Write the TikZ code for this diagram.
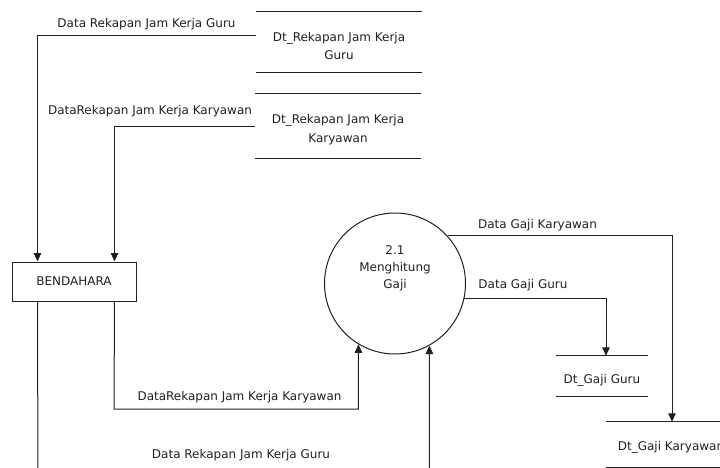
\documentclass[tikz,border=0pt]{standalone}
\usepackage{fontspec}
\setmainfont{DejaVu Sans}
\usetikzlibrary{arrows.meta}
\definecolor{ink}{HTML}{202020}
\begin{document}
\begin{tikzpicture}[x=1pt,y=-1pt,
  every node/.style={font=\fontsize{12}{18}\selectfont, text=ink},
  line/.style={draw=ink, line width=1pt},
  flow/.style={line, -{Triangle[length=8.5pt,width=7.5pt]}},
  storebox/.style={minimum width=#1, inner sep=0},
  lbl/.style={inner sep=0, align=center},
  entity/.style={line, minimum width=124, minimum height=39, inner sep=0},
  process/.style={circle, line, minimum size=141, inner sep=0}]

\useasboundingbox (0,0) rectangle (720,468);
\clip (0,0) rectangle (720,468);

% data stores: two horizontal rules, name set a little below the middle
\node[storebox=166, minimum height=60] (s1) at (339,42) {};
\node[storebox=166, minimum height=64] (s2) at (338,126) {};
\node[storebox=92, minimum height=40] (s3) at (602,376) {};
\node[storebox=130, minimum height=45] (s4) at (671,444.5) {};
\foreach \s in {s1,s2,s3,s4}
  \draw[line] (\s.north west) -- (\s.north east) (\s.south west) -- (\s.south east);
\node[lbl] (s1t) at ([yshift=-4.5pt]s1.center) {Dt\_Rekapan Jam Kerja\\Guru};
\node[lbl, font=\fontsize{12}{19}\selectfont] (s2t) at ([yshift=-4pt]s2.center) {Dt\_Rekapan Jam Kerja\\Karyawan};
\node[lbl] (s3t) at ([yshift=-4.5pt]s3.center) {Dt\_Gaji Guru};
\node[lbl] (s4t) at ([yshift=-3pt]s4.center) {Dt\_Gaji Karyawan};

% external entity and process
\node[entity] (bend) at (74,281.5) {BENDAHARA};
\node[process] (proc) at (395,283.5) {};
\node[lbl, font=\fontsize{12}{17}\selectfont] (proct) at ([yshift=15.5pt]proc.center) {2.1\\Menghitung\\Gaji};

% flows into BENDAHARA
\draw[flow] (s1.west |- 0,36) -| ([xshift=26pt]bend.north west);
\draw[flow] (s2.west |- 0,127) -| ([xshift=-22pt]bend.north east);
\node[lbl] (l1) at (146.5,24) {Data Rekapan Jam Kerja Guru};
\node[lbl] (l2) at (150,111.5) {DataRekapan Jam Kerja Karyawan};

% flows into the process
\draw[flow] ([xshift=-22pt]bend.south east) -- (114,409) -| (proc.239);
\draw[flow] ([xshift=26pt]bend.south west) -- (38,490) -| (proc.299);
\node[lbl] (l3) at (239.5,397) {DataRekapan Jam Kerja Karyawan};
\node[lbl] (l4) at (241,455.5) {Data Rekapan Jam Kerja Guru};

% flows out of the process
\draw[flow] (proc.42) -| (s4.north -| 672,0);
\draw[flow] (proc.-12) -| (s3.north -| 606,0);
\node[lbl] (l5) at (537.5,225) {Data Gaji Karyawan};
\node[lbl] (l6) at (523,285) {Data Gaji Guru};
\end{tikzpicture}
\end{document}
